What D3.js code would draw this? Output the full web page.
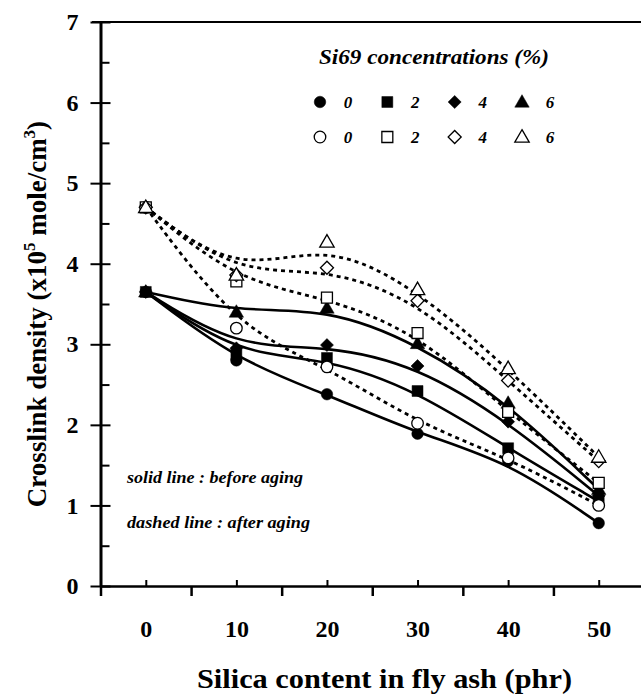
<!DOCTYPE html>
<html>
<head>
<meta charset="utf-8">
<script src="https://cdn.jsdelivr.net/npm/d3@7"></script>
<style>
  body { margin: 0; background: #fff; }
  svg text { font-family: "Liberation Serif", Tinos, "Times New Roman", Times, serif; font-weight: bold; fill: #000; }
</style>
</head>
<body>
<svg id="chart" width="641" height="699"></svg>
<script>
(function () {
  'use strict';

  // silica content (phr)
  var silica = [0, 10, 20, 30, 40, 50];
  var concentrations = ['0', '2', '4', '6'];
  var yTicks = [0, 1, 2, 3, 4, 5, 6, 7];

  // crosslink density before aging (filled markers, solid lines)
  var before0 = [3.65, 2.80, 2.38, 1.89, 1.55, 0.78];
  var before2 = [3.65, 2.87, 2.83, 2.42, 1.71, 1.05];
  var before4 = [3.65, 2.95, 2.99, 2.73, 2.04, 1.12];
  var before6 = [3.65, 3.40, 3.45, 3.01, 2.27, 1.20];

  // crosslink density after aging (open markers, dashed lines)
  var after0 = [4.70, 3.20, 2.72, 2.02, 1.59, 1.00];
  var after2 = [4.70, 3.78, 3.58, 3.14, 2.16, 1.28];
  var after4 = [4.70, 3.86, 3.95, 3.54, 2.55, 1.55];
  var after6 = [4.70, 3.86, 4.27, 3.68, 2.70, 1.60];

  var shapes = ['circle', 'square', 'diamond', 'triangle'];
  var series = [
    { values: before0, shape: 'circle', filled: true },
    { values: before2, shape: 'square', filled: true },
    { values: before4, shape: 'diamond', filled: true },
    { values: before6, shape: 'triangle', filled: true },
    { values: after0, shape: 'circle', filled: false },
    { values: after2, shape: 'square', filled: false },
    { values: after4, shape: 'diamond', filled: false },
    { values: after6, shape: 'triangle', filled: false }
  ];

  var svg = d3.select('#chart');
  var x = d3.scaleLinear().domain([-5, 55]).range([100.5, 644]);
  var y = d3.scaleLinear().domain([0, 7]).range([586, 22]);

  // y axis
  var yAxis = svg.append('g')
    .attr('transform', 'translate(100.5,0)')
    .call(d3.axisLeft(y).tickValues(yTicks).tickSize(10).tickSizeOuter(0)
      .tickPadding(12).tickFormat(d3.format('d')));
  yAxis.attr('font-family', null).attr('font-size', null);
  yAxis.select('.domain').attr('stroke-width', 3);
  yAxis.selectAll('.tick line').attr('x1', 10).attr('stroke-width', 2);
  yAxis.selectAll('.tick text').style('font-size', '24px');

  var yMinor = svg.append('g')
    .attr('transform', 'translate(100.5,0)')
    .call(d3.axisLeft(y).tickValues(d3.range(0.5, 7, 1)).tickSize(-9).tickFormat(''));
  yMinor.select('.domain').remove();
  yMinor.selectAll('.tick line').attr('stroke-width', 2);

  svg.append('line')
    .attr('x1', 92).attr('x2', 641)
    .attr('y1', y(7)).attr('y2', y(7))
    .attr('stroke', '#000').attr('stroke-width', 2);

  // x axis
  var xAxis = svg.append('g')
    .attr('transform', 'translate(0,586)')
    .call(d3.axisBottom(x).tickValues(silica).tickSize(-6).tickSizeOuter(0));
  xAxis.attr('font-family', null).attr('font-size', null);
  xAxis.select('.domain').attr('stroke-width', 2.5);
  xAxis.selectAll('.tick line').attr('stroke-width', 2);
  xAxis.selectAll('.tick text').attr('y', 51).attr('dy', 0)
    .style('font-size', '24px');

  var xBounds = svg.append('g')
    .attr('transform', 'translate(0,586)')
    .call(d3.axisBottom(x).tickValues([-5, 5, 15, 25, 35, 45]).tickSize(10).tickFormat(''));
  xBounds.select('.domain').remove();
  xBounds.selectAll('.tick line').attr('stroke-width', 2.5);

  // axis titles
  svg.append('text')
    .attr('x', 197).attr('y', 688)
    .attr('textLength', 375).attr('lengthAdjust', 'spacingAndGlyphs')
    .style('font-size', '27px')
    .text('Silica content in fly ash (phr)');

  var yTitle = svg.append('text')
    .attr('transform', 'translate(46,314) rotate(-90)')
    .attr('text-anchor', 'middle')
    .style('font-size', '27px');
  yTitle.append('tspan').text('Crosslink density (x10');
  yTitle.append('tspan').attr('dy', -11).style('font-size', '17px').text('5');
  yTitle.append('tspan').attr('dy', 11).text(' mole/cm');
  yTitle.append('tspan').attr('dy', -11).style('font-size', '17px').text('3');
  yTitle.append('tspan').attr('dy', 11).text(')');

  // lines
  var line = d3.line()
    .x(function (d) { return x(d[0]); })
    .y(function (d) { return y(d[1]); })
    .curve(d3.curveBasis);

  series.forEach(function (s) {
    svg.append('path')
      .datum(d3.zip(silica, s.values))
      .attr('d', line)
      .attr('fill', 'none')
      .attr('stroke', '#000')
      .attr('stroke-width', s.filled ? 2.6 : 2.8)
      .attr('stroke-dasharray', s.filled ? null : '4,4');
  });

  function symbolPath(shape) {
    if (shape === 'circle') return d3.symbol(d3.symbolCircle, 105)();
    if (shape === 'square') return d3.symbol(d3.symbolSquare, 120)();
    if (shape === 'diamond') return d3.symbol(d3.symbolSquare, 85)();
    return d3.symbol(d3.symbolTriangle, 90)();
  }

  function marker(g, shape, filled, cx, cy) {
    g.append('path')
      .attr('d', symbolPath(shape))
      .attr('transform', 'translate(' + cx + ',' + cy + ')' +
        (shape === 'diamond' ? ' rotate(45)' : '') +
        (shape === 'triangle' ? ' translate(0,1)' : ''))
      .attr('fill', filled ? '#000' : '#fff')
      .attr('stroke', '#000')
      .attr('stroke-width', filled ? 0.5 : 1.3);
  }

  var points = svg.append('g');
  series.forEach(function (s) {
    s.values.forEach(function (v, i) {
      marker(points, s.shape, s.filled, x(silica[i]), y(v));
    });
  });

  // legend
  var legendX = d3.scaleLinear().domain([0, 3]).range([320, 522]);
  var legend = svg.append('g');
  legend.append('text')
    .attr('x', 319).attr('y', 64)
    .attr('textLength', 230).attr('lengthAdjust', 'spacingAndGlyphs')
    .style('font-size', '22px').style('font-style', 'italic')
    .text('Si69 concentrations (%)');

  [{ filled: true, cy: 102 }, { filled: false, cy: 137 }].forEach(function (row) {
    concentrations.forEach(function (c, i) {
      marker(legend, shapes[i], row.filled, legendX(i), row.cy);
      legend.append('text')
        .attr('x', legendX(i) + 28).attr('y', row.cy + 6)
        .attr('text-anchor', 'middle')
        .style('font-size', '17px').style('font-style', 'italic')
        .text(c);
    });
  });

  svg.append('text')
    .attr('x', 127).attr('y', 483)
    .attr('textLength', 176).attr('lengthAdjust', 'spacingAndGlyphs')
    .style('font-size', '16px').style('font-style', 'italic')
    .text('solid line : before aging');
  svg.append('text')
    .attr('x', 127).attr('y', 528)
    .attr('textLength', 183).attr('lengthAdjust', 'spacingAndGlyphs')
    .style('font-size', '16px').style('font-style', 'italic')
    .text('dashed line : after aging');
})();
</script>
</body>
</html>
